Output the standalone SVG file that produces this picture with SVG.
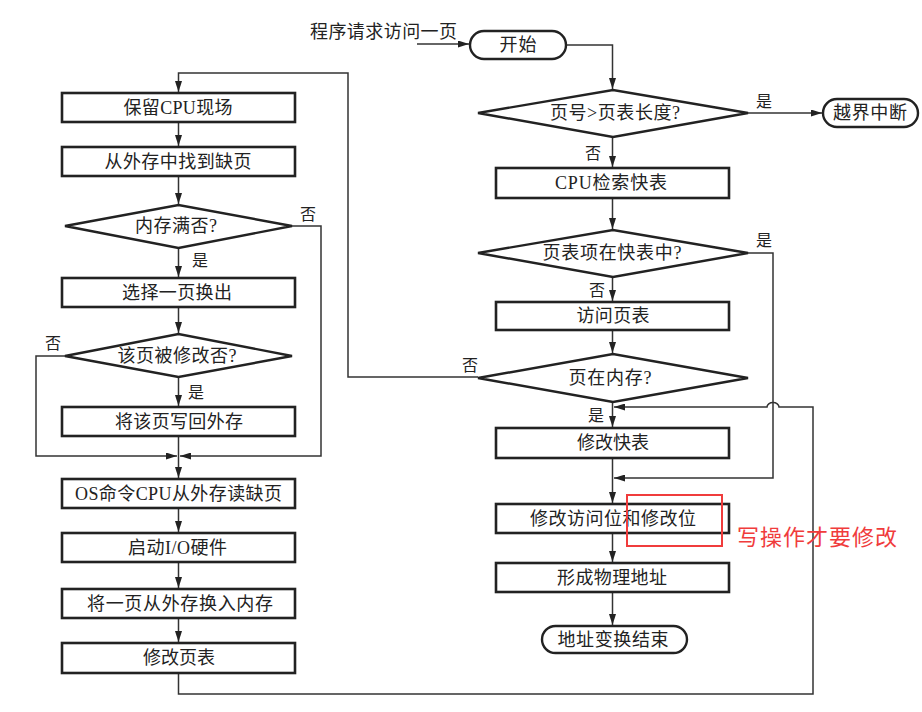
<svg xmlns="http://www.w3.org/2000/svg" width="922" height="712" viewBox="0 0 922 712">
<style>
.box{fill:#fff;stroke:#222;stroke-width:2.6}
.term{fill:#fff;stroke:#222;stroke-width:2.4}
.dia{fill:#fff;stroke:#222;stroke-width:2.4}
.t{font-family:"Liberation Serif","Noto Sans CJK SC",serif;font-size:18px;fill:#222;text-anchor:middle;dominant-baseline:central}
.lbl{font-family:"Liberation Serif","Noto Sans CJK SC",serif;font-size:16px;fill:#222;text-anchor:middle;dominant-baseline:central}
.ln{fill:none;stroke:#333;stroke-width:1.5}
.red{fill:none;stroke:#f03c3c;stroke-width:2}
.rt{font-family:"Noto Sans CJK SC","Noto Sans",sans-serif;font-size:22px;fill:#f03c3c;dominant-baseline:central}
</style>
<defs>
<marker id="ar" markerWidth="11" markerHeight="7" refX="11" refY="3.5" orient="auto" markerUnits="userSpaceOnUse">
<path d="M0,0 L11,3.5 L0,7 z" fill="#222"/>
</marker>
</defs>
<rect width="922" height="712" fill="#fff"/>

<g id="connectors">
<path class="ln" d="M417,44 L469,44" marker-end="url(#ar)"/>
<path class="ln" d="M566,45 L612.5,45 L612.5,89" marker-end="url(#ar)"/>
<path class="ln" d="M748,113 L822,113" marker-end="url(#ar)"/>
<path class="ln" d="M612.5,137 L612.5,167" marker-end="url(#ar)"/>
<path class="ln" d="M612.5,198 L612.5,229" marker-end="url(#ar)"/>
<path class="ln" d="M612.5,277 L612.5,301" marker-end="url(#ar)"/>
<path class="ln" d="M612.5,330 L612.5,353" marker-end="url(#ar)"/>
<path class="ln" d="M612.5,402 L612.5,427" marker-end="url(#ar)"/>
<path class="ln" d="M612.5,458 L612.5,503" marker-end="url(#ar)"/>
<path class="ln" d="M612.5,533 L612.5,562" marker-end="url(#ar)"/>
<path class="ln" d="M612.5,592 L612.5,625" marker-end="url(#ar)"/>
<path class="ln" d="M748,253 L773,253 L773,478 L614,478" marker-end="url(#ar)"/>
<path class="ln" d="M178.5,673 L178.5,694 L813,694 L813,407 L779,407 A6,4.5 0 0 0 767,407 L614,407" marker-end="url(#ar)"/>
<path class="ln" d="M478,377 L348,377 L348,73 L178.5,73 L178.5,92" marker-end="url(#ar)"/>
<path class="ln" d="M178.5,122 L178.5,146" marker-end="url(#ar)"/>
<path class="ln" d="M178.5,176 L178.5,204" marker-end="url(#ar)"/>
<path class="ln" d="M178.5,248 L178.5,277" marker-end="url(#ar)"/>
<path class="ln" d="M178.5,307 L178.5,333" marker-end="url(#ar)"/>
<path class="ln" d="M178.5,377 L178.5,406" marker-end="url(#ar)"/>
<path class="ln" d="M292,226 L321,226 L321,456 L180,456" marker-end="url(#ar)"/>
<path class="ln" d="M65,356 L36,356 L36,456 L177,456" marker-end="url(#ar)"/>
<path class="ln" d="M178.5,436 L178.5,478" marker-end="url(#ar)"/>
<path class="ln" d="M178.5,508 L178.5,532" marker-end="url(#ar)"/>
<path class="ln" d="M178.5,562 L178.5,588" marker-end="url(#ar)"/>
<path class="ln" d="M178.5,618 L178.5,642" marker-end="url(#ar)"/>
<text class="lbl" x="308" y="214">否</text>
<text class="lbl" x="200" y="260">是</text>
<text class="lbl" x="53" y="343">否</text>
<text class="lbl" x="196" y="392">是</text>
<text class="lbl" x="470" y="365">否</text>
<text class="lbl" x="764" y="101">是</text>
<text class="lbl" x="593" y="153">否</text>
<text class="lbl" x="764" y="240">是</text>
<text class="lbl" x="597" y="290">否</text>
<text class="lbl" x="596" y="415">是</text>
</g>

<text class="t" x="310" y="32" style="text-anchor:start" textLength="147" lengthAdjust="spacing">程序请求访问一页</text>

<g id="n-start"><rect class="term" x="470" y="31" width="96" height="28" rx="14"/><text class="t" x="518" y="45" textLength="37" lengthAdjust="spacing">开始</text></g>
<g id="n-d1"><polygon class="dia" points="478,113 613,90 748,113 613,137"/><text class="t" x="615" y="113" textLength="130" lengthAdjust="spacing">页号&gt;页表长度?</text></g>
<g id="n-oob"><rect class="term" x="823" y="99" width="95" height="28" rx="14"/><text class="t" x="870" y="113" textLength="74" lengthAdjust="spacing">越界中断</text></g>
<g id="n-tlb"><rect class="box" x="496" y="168" width="233" height="30"/><text class="t" x="611" y="183" textLength="112" lengthAdjust="spacing">CPU检索快表</text></g>
<g id="n-d2"><polygon class="dia" points="478,253 613,230 748,253 613,277"/><text class="t" x="612" y="253" textLength="139" lengthAdjust="spacing">页表项在快表中?</text></g>
<g id="n-pt"><rect class="box" x="496" y="302" width="233" height="28"/><text class="t" x="613" y="316" textLength="73" lengthAdjust="spacing">访问页表</text></g>
<g id="n-d3"><polygon class="dia" points="478,378 613,354 748,378 613,402"/><text class="t" x="610" y="378" textLength="83" lengthAdjust="spacing">页在内存?</text></g>
<g id="n-mtlb"><rect class="box" x="496" y="428" width="233" height="30"/><text class="t" x="613" y="443" textLength="72" lengthAdjust="spacing">修改快表</text></g>
<g id="n-bits"><rect class="box" x="496" y="504" width="233" height="29"/><text class="t" x="613" y="518.5" textLength="166" lengthAdjust="spacing">修改访问位和修改位</text></g>
<g id="n-phys"><rect class="box" x="496" y="563" width="233" height="29"/><text class="t" x="612" y="577.5" textLength="110" lengthAdjust="spacing">形成物理地址</text></g>
<g id="n-end"><rect class="term" x="542" y="626" width="145" height="27" rx="13.5"/><text class="t" x="613" y="639.5" textLength="111" lengthAdjust="spacing">地址变换结束</text></g>

<g id="n-save"><rect class="box" x="62" y="93" width="233" height="29"/><text class="t" x="178" y="107.5" textLength="109" lengthAdjust="spacing">保留CPU现场</text></g>
<g id="n-find"><rect class="box" x="62" y="147" width="233" height="29"/><text class="t" x="178" y="161.5" textLength="147" lengthAdjust="spacing">从外存中找到缺页</text></g>
<g id="n-full"><polygon class="dia" points="65,226 178.5,205 292,226 178.5,248"/><text class="t" x="176" y="226" textLength="82" lengthAdjust="spacing">内存满否?</text></g>
<g id="n-select"><rect class="box" x="62" y="278" width="233" height="29"/><text class="t" x="177" y="292.5" textLength="110" lengthAdjust="spacing">选择一页换出</text></g>
<g id="n-mod"><polygon class="dia" points="65,356 178.5,334 292,356 178.5,377"/><text class="t" x="177" y="356" textLength="119" lengthAdjust="spacing">该页被修改否?</text></g>
<g id="n-write"><rect class="box" x="62" y="407" width="233" height="29"/><text class="t" x="179" y="421.5" textLength="128" lengthAdjust="spacing">将该页写回外存</text></g>
<g id="n-os"><rect class="box" x="62" y="479" width="233" height="29"/><text class="t" x="178.5" y="493.5" textLength="207" lengthAdjust="spacing">OS命令CPU从外存读缺页</text></g>
<g id="n-io"><rect class="box" x="62" y="533" width="233" height="29"/><text class="t" x="177.5" y="547.5" textLength="99" lengthAdjust="spacing">启动I/O硬件</text></g>
<g id="n-swap"><rect class="box" x="62" y="589" width="233" height="29"/><text class="t" x="180" y="603.5" textLength="186" lengthAdjust="spacing">将一页从外存换入内存</text></g>
<g id="n-upd"><rect class="box" x="62" y="643" width="233" height="30"/><text class="t" x="179" y="658" textLength="72" lengthAdjust="spacing">修改页表</text></g>

<g id="annotation">
<rect class="red" x="627" y="495" width="95" height="51"/>
<text class="rt" x="737" y="535" textLength="160" lengthAdjust="spacing">写操作才要修改</text>
</g>
</svg>
